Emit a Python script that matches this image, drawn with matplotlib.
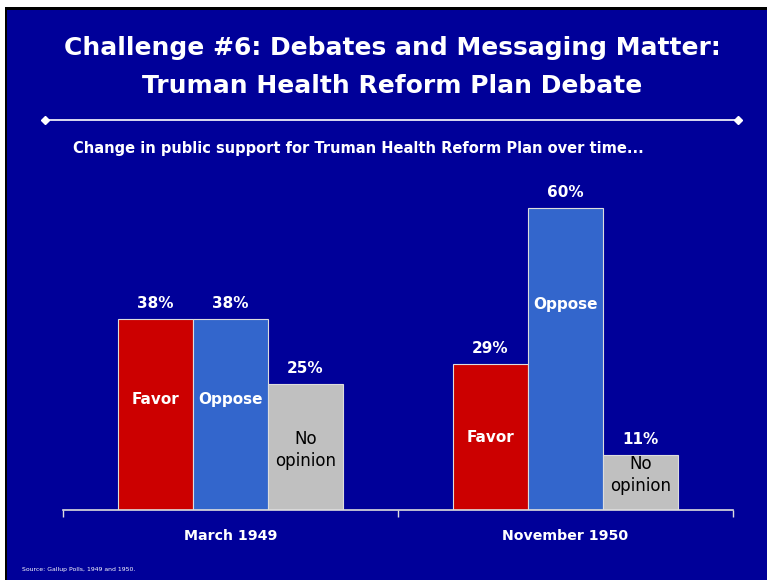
import matplotlib
matplotlib.use("Agg")
import matplotlib.pyplot as plt
from matplotlib.patches import Rectangle
import numpy as np

# data
periods = ["March 1949", "November 1950"]
responses = ["Favor", "Oppose", "No\nopinion"]
favor = [38, 29]
oppose = [38, 60]
no_opinion = [25, 11]

BG = "#000099"
bar_colors = ["#CC0000", "#3366CC", "#C0C0C0"]
inner_text_colors = ["white", "white", "black"]
inner_weights = ["bold", "bold", "normal"]
# where the inside label of each bar sits (data units)
inner_label_y = [[21.9, 21.9, 11.9], [14.5, 40.8, 7.0]]

plt.rcParams["font.family"] = ["DejaVu Sans"]

fig = plt.figure(figsize=(7.67, 5.80), dpi=100, facecolor=BG)
W, H = 767, 580
# white margin + thin black frame at the top/left of the slide
fig.patches.append(Rectangle((0, (H - 7) / H), 1, 7 / H, transform=fig.transFigure,
                             facecolor="white", linewidth=0, zorder=-1))
fig.patches.append(Rectangle((0, 0), 5 / W, 1, transform=fig.transFigure,
                             facecolor="white", linewidth=0, zorder=-1))
fig.patches.append(Rectangle((5 / W, (H - 10) / H), 1 - 5 / W, 3 / H,
                             transform=fig.transFigure, facecolor="black",
                             linewidth=0, zorder=-1))
fig.patches.append(Rectangle((5 / W, 0), 2 / W, (H - 7) / H,
                             transform=fig.transFigure, facecolor="black",
                             linewidth=0, zorder=-1))

# title block
fig.text(392 / W, 1 - 48 / H, "Challenge #6: Debates and Messaging Matter:",
         ha="center", va="center", color="white", fontsize=18, fontweight="bold")
fig.text(392 / W, 1 - 86 / H, "Truman Health Reform Plan Debate",
         ha="center", va="center", color="white", fontsize=18, fontweight="bold")
fig.add_artist(plt.Line2D([45 / W, 738 / W], [1 - 120 / H, 1 - 120 / H],
                          transform=fig.transFigure, color="white", lw=1.2,
                          marker="D", markersize=4, markevery=[0, 1]))
fig.text(73 / W, 1 - 148 / H,
         "Change in public support for Truman Health Reform Plan over time...",
         ha="left", va="center", color="white", fontsize=10.5, fontweight="bold")
fig.text(22 / W, 1 - 569 / H, "Source: Gallup Polls, 1949 and 1950.",
         ha="left", va="center", color="white", fontsize=4.4)

ax = fig.add_axes([63 / W, 70 / H, 670 / W, 332 / H])
ax.set_facecolor("none")

x = np.arange(len(periods))
width = 0.224
series = [favor, oppose, no_opinion]
for i, vals in enumerate(series):
    pos = x + (i - 1) * width
    ax.bar(pos, vals, width, color=bar_colors[i], edgecolor="#DDDDDD", linewidth=0.8)
    for j, v in enumerate(vals):
        ax.text(pos[j], v + 1.6, f"{v}%", ha="center", va="bottom",
                color="white", fontsize=11, fontweight="bold")
        ax.text(pos[j], inner_label_y[j][i], responses[i], ha="center", va="center",
                color=inner_text_colors[i], fontsize=11 if i < 2 else 12,
                fontweight=inner_weights[i], linespacing=1.3)

ax.set_xlim(-0.5, 1.5)
ax.set_ylim(0, 66)
for s in ["top", "right", "left"]:
    ax.spines[s].set_visible(False)
ax.spines["bottom"].set_color("#DDDDDD")
ax.spines["bottom"].set_linewidth(1.2)
ax.set_yticks([])
ax.set_xticks([-0.5, 0.5, 1.5])
ax.set_xticklabels([])
ax.tick_params(axis="x", which="major", length=5, color="#DDDDDD", width=1)
ax.set_xticks(x, minor=True)
ax.set_xticklabels(periods, minor=True)
ax.tick_params(axis="x", which="minor", length=0, pad=14, labelcolor="white",
               labelsize=10.2)
for lbl in ax.get_xticklabels(minor=True):
    lbl.set_fontweight("bold")

fig.savefig("out.png", dpi=100, facecolor=fig.get_facecolor())
